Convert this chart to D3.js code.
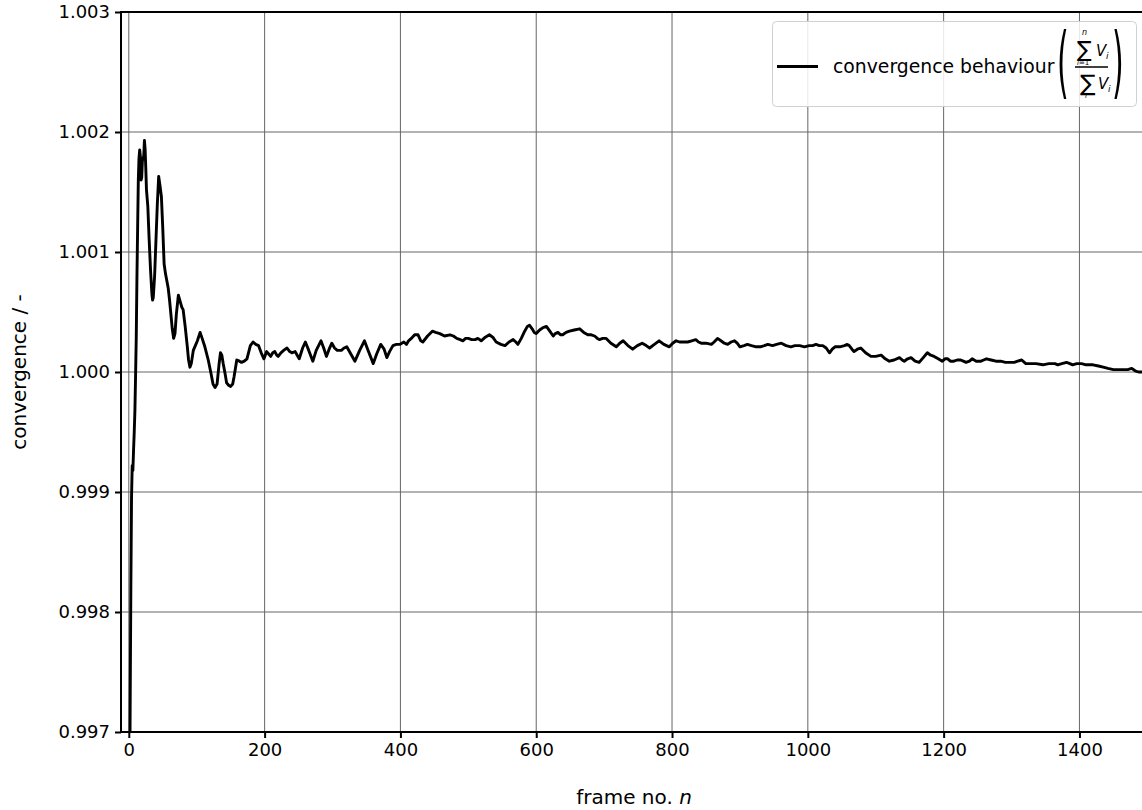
<!DOCTYPE html>
<html>
<head>
<meta charset="utf-8">
<script src="https://cdn.jsdelivr.net/npm/d3@7"></script>
<style>
	body { margin: 0; background: #fff; }
	text { font-family: "DejaVu Sans", sans-serif; fill: #000; }
</style>
</head>
<body>
<div id="vis"></div>
<script>

// frame numbers and convergence values
var frames = [0,1,2,3,4,5,6,7,8,9,10,11,12,13,14,15,16,17,18,19,20,21,22,23,24,25,26,28,30,32,34,35,36,38,40,42,44,46,48,50,52,54,56,58,60,62,64,66,68,70,73,76,78,80,83,86,88,90,92,95,98,101,105,108,112,117,121,124,127,130,133,135,137,139,142,144,147,150,153,155,159,163,166,170,174,179,183,187,191,195,199,203,206,209,212,215,218,220,224,228,233,237,240,245,248,251,256,260,265,271,276,283,287,291,295,299,303,307,313,317,321,327,333,340,347,353,360,365,371,376,380,384,389,394,399,405,409,412,416,421,426,430,433,440,447,452,458,465,473,478,483,488,492,496,500,505,510,514,519,525,531,536,541,548,554,560,566,570,573,578,583,587,590,594,597,600,605,610,615,620,625,628,632,636,639,644,649,656,664,670,676,681,686,690,693,698,703,710,718,723,728,735,742,749,756,762,767,774,781,788,796,801,806,811,816,823,829,835,839,843,850,858,862,867,872,877,882,887,892,896,900,906,911,917,924,930,936,941,948,954,961,968,975,981,988,995,1002,1007,1012,1017,1022,1027,1032,1036,1040,1047,1054,1058,1061,1065,1068,1073,1078,1085,1093,1100,1108,1114,1120,1127,1135,1139,1142,1147,1152,1158,1164,1170,1176,1181,1186,1192,1198,1202,1206,1210,1215,1220,1225,1229,1233,1238,1242,1248,1255,1259,1263,1270,1277,1284,1291,1297,1304,1309,1315,1321,1328,1336,1346,1355,1364,1368,1374,1381,1386,1390,1396,1403,1410,1420,1428,1435,1442,1450,1458,1465,1471,1477,1482,1487,1495];

var convergence = [0.9948,0.9962,0.9972,0.9982,0.99895,0.99922,0.99918,0.99935,0.9995,0.99968,0.99998,1.0003,1.0008,1.0012,1.0016,1.00178,1.00185,1.0018,1.0016,1.00162,1.00176,1.00178,1.0018,1.00193,1.00186,1.0017,1.00152,1.00138,1.0011,1.00085,1.00065,1.0006,1.00062,1.0008,1.0011,1.0014,1.00163,1.00155,1.00146,1.0012,1.0009,1.00082,1.00076,1.0007,1.0006,1.00048,1.00036,1.00028,1.00032,1.00048,1.00064,1.00058,1.00054,1.00052,1.00038,1.00022,1.0001,1.00004,1.00007,1.00018,1.00022,1.00026,1.00033,1.00028,1.00021,1.0001,0.99999,0.9999,0.99987,0.9999,1.00007,1.00016,1.00014,1.00007,0.99998,0.99991,0.99989,0.99988,0.9999,0.99996,1.0001,1.00009,1.00008,1.00009,1.00011,1.00022,1.00025,1.00023,1.00022,1.00016,1.00011,1.00017,1.00015,1.00013,1.00016,1.00017,1.00014,1.00013,1.00016,1.00018,1.0002,1.00017,1.00016,1.00017,1.00014,1.00011,1.0002,1.00025,1.00018,1.00009,1.00018,1.00026,1.0002,1.00013,1.00019,1.00024,1.0002,1.00018,1.00018,1.0002,1.00021,1.00015,1.00009,1.00018,1.00026,1.00017,1.00007,1.00015,1.00023,1.00019,1.00012,1.00017,1.00022,1.00023,1.00023,1.00025,1.00023,1.00026,1.00028,1.00031,1.00031,1.00026,1.00025,1.0003,1.00034,1.00033,1.00032,1.0003,1.00031,1.0003,1.00028,1.00027,1.00026,1.00028,1.00028,1.00027,1.00027,1.00028,1.00026,1.00029,1.00031,1.00029,1.00025,1.00023,1.00022,1.00025,1.00027,1.00025,1.00023,1.00028,1.00034,1.00038,1.00039,1.00036,1.00033,1.00032,1.00035,1.00037,1.00038,1.00034,1.0003,1.00032,1.00033,1.00031,1.00031,1.00033,1.00034,1.00035,1.00036,1.00033,1.00031,1.00031,1.0003,1.00028,1.00027,1.00028,1.00028,1.00024,1.00021,1.00024,1.00026,1.00022,1.00019,1.00022,1.00024,1.00022,1.0002,1.00023,1.00026,1.00023,1.00021,1.00024,1.00026,1.00025,1.00025,1.00025,1.00026,1.00027,1.00025,1.00024,1.00024,1.00023,1.00025,1.00028,1.00026,1.00024,1.00023,1.00025,1.00026,1.00024,1.00021,1.00022,1.00023,1.00022,1.00021,1.00021,1.00022,1.00023,1.00022,1.00023,1.00024,1.00022,1.00021,1.00022,1.00022,1.00021,1.00022,1.00022,1.00023,1.00022,1.00022,1.0002,1.00016,1.00019,1.00021,1.00021,1.00022,1.00023,1.00022,1.00019,1.00017,1.00019,1.0002,1.00016,1.00013,1.00013,1.00014,1.00011,1.00009,1.0001,1.00012,1.0001,1.00009,1.00011,1.00012,1.00009,1.00008,1.00012,1.00016,1.00014,1.00013,1.00011,1.00009,1.00011,1.00011,1.00009,1.00009,1.0001,1.0001,1.00009,1.00008,1.00009,1.00011,1.00009,1.00009,1.0001,1.00011,1.0001,1.00009,1.00009,1.00008,1.00008,1.00008,1.00009,1.0001,1.00007,1.00007,1.00007,1.00006,1.00007,1.00007,1.00006,1.00007,1.00008,1.00007,1.00006,1.00007,1.00007,1.00006,1.00006,1.00005,1.00004,1.00003,1.00002,1.00002,1.00002,1.00002,1.00003,1.00001,1.0,1.0];

var xTicks = [0, 200, 400, 600, 800, 1000, 1200, 1400];
var yTicks = [0.997, 0.998, 0.999, 1.000, 1.001, 1.002, 1.003];

var seriesName = "convergence behaviour";
var xLabel = "frame no. ";
var xLabelItalic = "n";
var yLabel = "convergence / -";

function convergencePlot() {
	// sizes of the page and the axes box
	var width = 1142;
	var height = 810;
	var left = 121, top = 12, right = 1147, bottom = 732;
	var fontSize = 18;

	var data = frames.map(function(f, i) {
		return { frame: f, value: convergence[i] };
	});

	var x = d3.scaleLinear()
		.domain([-11.5, 1499.5])
		.range([left, right]);

	var y = d3.scaleLinear()
		.domain([0.997, 1.003])
		.range([bottom, top]);

	var svg = d3.select("#vis")
		.append("svg")
		.attr("width", width)
		.attr("height", height);

	svg.append("defs")
		.append("clipPath")
		.attr("id", "plotClip")
		.append("rect")
		.attr("x", left)
		.attr("y", top)
		.attr("width", right - left)
		.attr("height", bottom - top);

	//////////////////////////////  GRID  //////////////////////////////
	svg.append("g")
		.selectAll("line")
		.data(xTicks)
		.enter().append("line")
		.attr("x1", function(d) { return x(d); })
		.attr("x2", function(d) { return x(d); })
		.attr("y1", top)
		.attr("y2", bottom)
		.attr("stroke", "#666")
		.attr("stroke-width", 1);

	svg.append("g")
		.selectAll("line")
		.data(yTicks)
		.enter().append("line")
		.attr("x1", left)
		.attr("x2", right)
		.attr("y1", function(d) { return y(d); })
		.attr("y2", function(d) { return y(d); })
		.attr("stroke", "#666")
		.attr("stroke-width", 1);

	//////////////////////////////  LINE  //////////////////////////////
	var line = d3.line()
		.x(function(d) { return x(d.frame); })
		.y(function(d) { return y(d.value); });

	svg.append("path")
		.datum(data)
		.attr("clip-path", "url(#plotClip)")
		.attr("fill", "none")
		.attr("stroke", "#000")
		.attr("stroke-width", 2.9)
		.attr("stroke-linejoin", "round")
		.attr("d", line);

	//////////////////////////////  AXES  //////////////////////////////
	var xAxis = svg.append("g")
		.attr("transform", "translate(0," + bottom + ")")
		.call(d3.axisBottom(x).tickValues(xTicks).tickSize(6).tickPadding(5).tickFormat(d3.format("d")));

	var yAxis = svg.append("g")
		.attr("transform", "translate(" + left + ",0)")
		.call(d3.axisLeft(y).tickValues(yTicks).tickSize(6).tickPadding(5).tickFormat(d3.format(".3f")));

	[xAxis, yAxis].forEach(function(a) {
		a.select(".domain").remove();
		a.selectAll(".tick line").attr("stroke", "#000").attr("stroke-width", 2);
		a.selectAll(".tick text")
			.style("font-family", "DejaVu Sans")
			.style("font-size", fontSize + "px")
			.attr("fill", "#000");
	});

	// spines: left, bottom and top
	svg.append("line").attr("x1", left).attr("x2", left).attr("y1", top - 1).attr("y2", bottom + 1)
		.attr("stroke", "#000").attr("stroke-width", 2);
	svg.append("line").attr("x1", left - 1).attr("x2", right).attr("y1", bottom).attr("y2", bottom)
		.attr("stroke", "#000").attr("stroke-width", 2);
	svg.append("line").attr("x1", left - 1).attr("x2", right).attr("y1", top).attr("y2", top)
		.attr("stroke", "#000").attr("stroke-width", 2);

	// axis labels
	var xl = svg.append("text")
		.attr("x", (left + right) / 2)
		.attr("y", 804)
		.attr("text-anchor", "middle")
		.style("font-size", "20px");
	xl.append("tspan").text(xLabel);
	xl.append("tspan").style("font-style", "italic").text(xLabelItalic);

	svg.append("text")
		.attr("transform", "translate(26," + ((top + bottom) / 2) + ") rotate(-90)")
		.attr("text-anchor", "middle")
		.style("font-size", "20px")
		.text(yLabel);

	//////////////////////////////  LEGEND  //////////////////////////////
	var legend = svg.append("g");

	legend.append("rect")
		.attr("x", 772.5)
		.attr("y", 21.5)
		.attr("width", 364)
		.attr("height", 85)
		.attr("rx", 4)
		.attr("fill", "#fff")
		.attr("fill-opacity", 0.85)
		.attr("stroke", "#d0d0d0")
		.attr("stroke-width", 1);

	legend.append("line")
		.attr("x1", 777).attr("x2", 818)
		.attr("y1", 66.5).attr("y2", 66.5)
		.attr("stroke", "#000")
		.attr("stroke-width", 2.9);

	legend.append("text")
		.attr("x", 833)
		.attr("y", 73)
		.style("font-size", "18.8px")
		.text(seriesName);

	// big parentheses round the fraction
	legend.append("text")
		.attr("x", 1057).attr("y", 89)
		.attr("transform", "translate(1057,89) scale(1,2.6) translate(-1057,-89)")
		.style("font-size", "30px")
		.text("(");
	legend.append("text")
		.attr("x", 1112).attr("y", 89)
		.attr("transform", "translate(1112,89) scale(1,2.6) translate(-1112,-89)")
		.style("font-size", "30px")
		.text(")");

	// fraction bar
	legend.append("line")
		.attr("x1", 1075).attr("x2", 1108)
		.attr("y1", 67).attr("y2", 67)
		.attr("stroke", "#000")
		.attr("stroke-width", 1.3);

	// numerator: sum from i=1 to n of V_i
	var num = legend.append("text");
	num.append("tspan").attr("x", 1082).attr("y", 35)
		.style("font-size", "8px").style("font-style", "italic").text("n");
	num.append("tspan").attr("x", 1077).attr("y", 57)
		.style("font-size", "22px").text("∑");
	num.append("tspan").attr("x", 1077).attr("y", 65)
		.style("font-size", "7px").style("font-style", "italic").text("i");
	num.append("tspan")
		.style("font-size", "7px").text("=1");
	num.append("tspan").attr("x", 1096).attr("y", 56)
		.style("font-size", "15px").style("font-style", "italic").text("V");
	num.append("tspan").attr("x", 1106).attr("y", 59)
		.style("font-size", "9px").style("font-style", "italic").text("i");

	// denominator: sum over i of V_i
	var den = legend.append("text");
	den.append("tspan").attr("x", 1080).attr("y", 91)
		.style("font-size", "23px").text("∑");
	den.append("tspan").attr("x", 1085).attr("y", 98)
		.style("font-size", "7px").style("font-style", "italic").text("i");
	den.append("tspan").attr("x", 1098).attr("y", 89)
		.style("font-size", "15px").style("font-style", "italic").text("V");
	den.append("tspan").attr("x", 1108).attr("y", 92)
		.style("font-size", "9px").style("font-style", "italic").text("i");
}

convergencePlot();

</script>
</body>
</html>
